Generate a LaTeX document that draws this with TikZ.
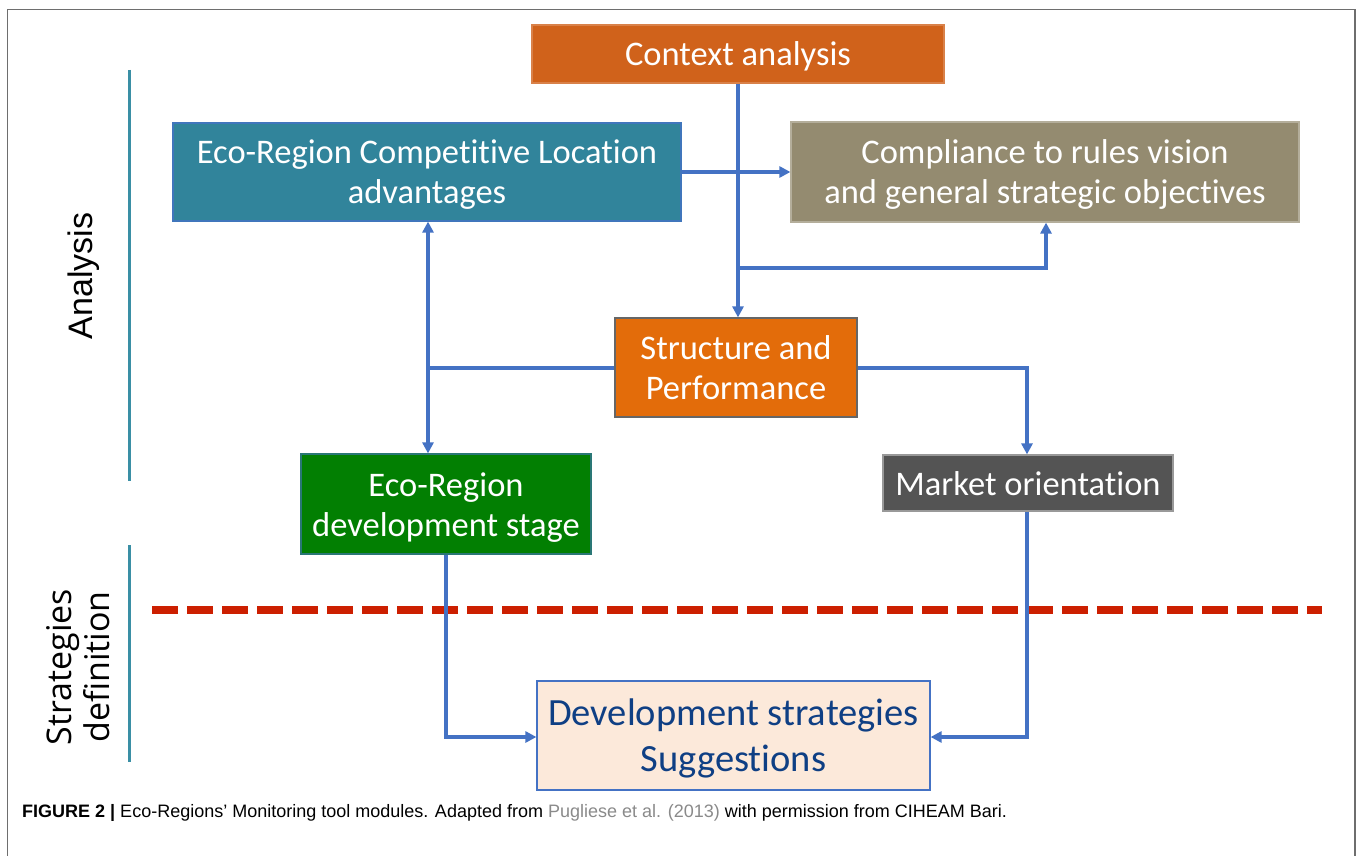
\documentclass[tikz,border=0pt]{standalone}
\usepackage{fontspec}
\setmainfont{Carlito}[Ligatures=NoCommon]
\newfontfamily\helv{Liberation Sans}
\newfontfamily\opens{Open Sans}
\usetikzlibrary{arrows.meta}
\definecolor{ctxor}{HTML}{D0621B}
\definecolor{teal1}{HTML}{31849B}
\definecolor{olive1}{HTML}{948B70}
\definecolor{stror}{HTML}{E36C0A}
\definecolor{green1}{HTML}{027F02}
\definecolor{dgray}{HTML}{545454}
\definecolor{peach}{HTML}{FCE9DA}
\definecolor{arrowblue}{HTML}{4472C4}
\definecolor{navy}{HTML}{0F3F84}
\definecolor{framegray}{HTML}{6E6E6E}
\definecolor{dashred}{HTML}{CC1F00}
\definecolor{sidebar}{HTML}{3A8FA5}
\definecolor{capgray}{HTML}{8A8A8A}
\newcommand\dnshift[1]{\raisebox{-4pt}[\height][\depth]{\begin{tabular}{@{}c@{}}#1\end{tabular}}}
\tikzset{
  box/.style={rectangle, inner sep=0pt, align=center, text=white,
    font=\fontsize{34.5}{40}\selectfont, line width=1.2pt},
  conn/.style={draw=arrowblue, line width=3.4pt, -{Triangle[length=11pt,width=11pt]}},
  plain/.style={draw=arrowblue, line width=3.4pt},
}
\begin{document}
\begin{tikzpicture}[x=1pt,y=-1pt]
\useasboundingbox (0,0) rectangle (1358,856);
\fill[white] (0,0) rectangle (1358,856);
% frame
\draw[framegray, line width=1.5pt] (7.5,870) -- (7.5,9.5) -- (1355,9.5) -- (1355,870);
% side bars
\draw[sidebar, line width=3pt] (129,70) -- (129,481);
\draw[sidebar, line width=3pt] (129,545) -- (129,762);
\node[rotate=90, font=\helv\fontsize{34}{40}\selectfont] (lanalysis) at (84,276) {Analysis};
\node[rotate=90, align=center, font=\opens\fontsize{34}{38}\selectfont] (lstrat) at (78,667) {Strategies\\definition};
% red dashed separator
\draw[dashred, line width=8pt, dash pattern=on 26pt off 9pt] (152,610) -- (1322,610);
% boxes
\node[box, fill=ctxor, draw=ctxor!80!white, minimum width=412pt, minimum height=58pt] (ctx) at (738,54) {\dnshift{Context analysis}};
\node[box, fill=teal1, draw=arrowblue!80!teal1, minimum width=508pt, minimum height=98pt] (eco) at (427,172) {\dnshift{Eco-Region Competitive Location\\advantages}};
\node[box, fill=olive1, draw=olive1!70!white, minimum width=508pt, minimum height=100pt] (comp) at (1045,172) {\dnshift{Compliance to rules vision\\and general strategic objectives}};
\node[box, fill=stror, draw=black!60, minimum width=242pt, minimum height=99pt] (sp) at (736,367.5) {\dnshift{Structure and\\Performance}};
\node[box, fill=green1, draw=arrowblue!60!green1, minimum width=290pt, minimum height=100pt] (dev) at (446,504) {\dnshift{Eco-Region\\development stage}};
\node[box, fill=dgray, draw=black!40, minimum width=290pt, minimum height=56pt] (mkt) at (1028,483) {\dnshift{Market orientation}};
\node[box, fill=peach, draw=arrowblue, text=navy, font=\fontsize{38.5}{46}\selectfont, minimum width=393pt, minimum height=109pt] (sug) at (733.5,735.5) {\dnshift{Development strategies\\Suggestions}};
% connectors
\coordinate (j1) at (738,268);
\coordinate (j2) at (428,368);
\coordinate (j3) at (1027,368);
\draw[conn] (ctx.south -| 738,0) -- (sp.north -| 738,0);
\draw[conn] (j1) -- (1046,268) -- (comp.south -| 1046,0);
\draw[conn] (eco.east) -- (comp.west);
\draw[plain] (sp.west |- j2) -- (j2);
\draw[conn] (j2) -- (eco.south -| j2);
\draw[conn] (j2) -- (dev.north -| j2);
\draw[conn] (sp.east |- j3) -- (j3) -- (mkt.north -| j3);
\draw[conn] (dev.south -| 446,0) -- (446,737) -- (sug.west |- 0,737);
\draw[conn] (mkt.south -| 1027,0) -- (1027,737) -- (sug.east |- 0,737);
% caption
\node[anchor=base west, inner sep=0pt, font=\helv\fontsize{18}{20}\selectfont] (cap) at (22,817)
  {\textbf{FIGURE 2 |} Eco-Regions’ Monitoring tool modules. Adapted from \textcolor{capgray}{Pugliese et al. (2013)} with permission from CIHEAM Bari.};
\end{tikzpicture}
\end{document}
